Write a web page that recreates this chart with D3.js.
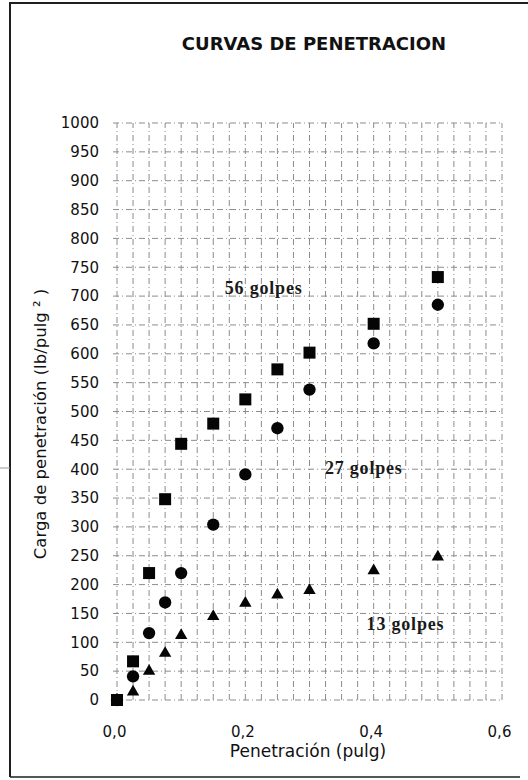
<!DOCTYPE html>
<html>
<head>
<meta charset="utf-8">
<script src="https://cdn.jsdelivr.net/npm/d3@7"></script>
<style>
  body { margin: 0; background: #fff; }
  svg { display: block; background: #fff; }
</style>
</head>
<body>
<svg id="chart" width="528" height="780"></svg>
<script>
// penetration readings (pulg)
const penetracion = [0, 0.025, 0.05, 0.075, 0.1, 0.15, 0.2, 0.25, 0.3, 0.4, 0.5];

// load readings (lb/pulg2) for each number of blows
const carga56 = [0, 67, 220, 348, 444, 479, 521, 573, 602, 652, 733];
const carga27 = [0, 41, 116, 169, 220, 304, 391, 471, 538, 618, 685];
const carga13 = [0, 14, 50, 81, 112, 145, 168, 182, 190, 224, 248];

// axis ticks
const xTicks = [0, 0.2, 0.4, 0.6];
const yTicks = [0, 50, 100, 150, 200, 250, 300, 350, 400, 450, 500,
                550, 600, 650, 700, 750, 800, 850, 900, 950, 1000];

const svg = d3.select("#chart");
const sans = "'DejaVu Sans', sans-serif";
const serif = "'Liberation Serif', 'Times New Roman', serif";

// scales
const xscale = d3.scaleLinear().domain([0, 0.6]).range([117, 502]);
const yscale = d3.scaleLinear().domain([0, 1000]).range([700, 123]);

// decimal comma for the x labels
const es = d3.formatLocale({decimal: ",", thousands: ".", grouping: [3], currency: ["", ""]});

//----------------------------
// frame around the figure
const frame = svg.append("g").attr("stroke", "#1e1e1e").attr("fill", "none");
frame.append("path").attr("d", "M10,777 L10,3 L528,3").attr("stroke-width", 2);
frame.append("line").attr("x1", 10).attr("x2", 520).attr("y1", 777).attr("y2", 777)
    .attr("stroke-width", 1.5);
frame.append("line").attr("x1", 0).attr("x2", 10).attr("y1", 468).attr("y2", 468)
    .attr("stroke", "#999").attr("stroke-width", 1);

//----------------------------
// grid (dash-dot like the printed graph paper)
const grid = svg.append("g")
    .attr("stroke", "#8c8c8c")
    .attr("stroke-width", 1)
    .attr("stroke-dasharray", "6,3,1,3")
    .attr("fill", "none");

grid.selectAll(".h").data(yTicks).enter().append("line")
    .attr("x1", xscale(0) - 4)
    .attr("x2", xscale(0.6))
    .attr("y1", d => yscale(d))
    .attr("y2", d => yscale(d));

grid.selectAll(".v").data(d3.range(0, 25)).enter().append("line")
    .attr("x1", d => xscale(d * 0.025))
    .attr("x2", d => xscale(d * 0.025))
    .attr("y1", yscale(0))
    .attr("y2", yscale(1000));

//----------------------------
// axes (labels only, no domain line)
const yAxis = d3.axisLeft(yscale).tickValues(yTicks).tickSize(0).tickPadding(18)
    .tickFormat(d3.format("d"));
const yg = svg.append("g").attr("transform", `translate(${xscale(0)},0)`).call(yAxis);
yg.select(".domain").remove();
yg.selectAll("text").attr("font-family", sans).attr("font-size", 15).attr("fill", "#111");

const xAxis = d3.axisBottom(xscale).tickValues(xTicks).tickSize(0).tickPadding(26)
    .tickFormat(es.format(".1f"));
const xg = svg.append("g").attr("transform", `translate(0,${yscale(0)})`).call(xAxis);
xg.select(".domain").remove();
xg.selectAll("text").attr("font-family", sans).attr("font-size", 15).attr("fill", "#111")
    .attr("dx", -3);

//----------------------------
// titles
svg.append("text")
    .attr("x", 314).attr("y", 50)
    .attr("text-anchor", "middle")
    .attr("font-family", sans).attr("font-size", 18).attr("font-weight", "bold")
    .attr("fill", "#111")
    .text("CURVAS DE PENETRACION");

svg.append("text")
    .attr("x", 308).attr("y", 757)
    .attr("text-anchor", "middle")
    .attr("font-family", sans).attr("font-size", 17)
    .attr("fill", "#111")
    .text("Penetración (pulg)");

svg.append("text")
    .attr("transform", "translate(46,424) rotate(-90)")
    .attr("text-anchor", "middle")
    .attr("font-family", sans).attr("font-size", 16.5)
    .attr("fill", "#111")
    .text("Carga de penetración (lb/pulg ² )");

//----------------------------
// markers for each series, squares drawn last so they sit on top
const series = [
    {name: "13 golpes", values: carga13, symbol: d3.symbolTriangle, size: 66},
    {name: "27 golpes", values: carga27, symbol: d3.symbolCircle, size: 120},
    {name: "56 golpes", values: carga56, symbol: d3.symbolSquare, size: 144}
];

series.forEach(s => {
    const shape = d3.symbol().type(s.symbol).size(s.size);
    svg.append("g").selectAll("path")
        .data(penetracion.map((p, i) => ({x: p, y: s.values[i]})))
        .enter()
        .append("path")
        .attr("transform", d => `translate(${xscale(d.x)},${yscale(d.y)})`)
        .attr("d", shape)
        .attr("fill", "#050505");
});

//----------------------------
// curve labels
const curveLabels = [
    {text: "56 golpes", x: 0.168, y: 704},
    {text: "27 golpes", x: 0.324, y: 392},
    {text: "13 golpes", x: 0.389, y: 121}
];
svg.append("g").selectAll("text")
    .data(curveLabels)
    .enter()
    .append("text")
    .attr("x", d => xscale(d.x))
    .attr("y", d => yscale(d.y))
    .attr("font-family", serif).attr("font-size", 18).attr("font-weight", "bold")
    .attr("letter-spacing", 0.8)
    .attr("fill", "#1a1a1a")
    .text(d => d.text);
</script>
</body>
</html>
